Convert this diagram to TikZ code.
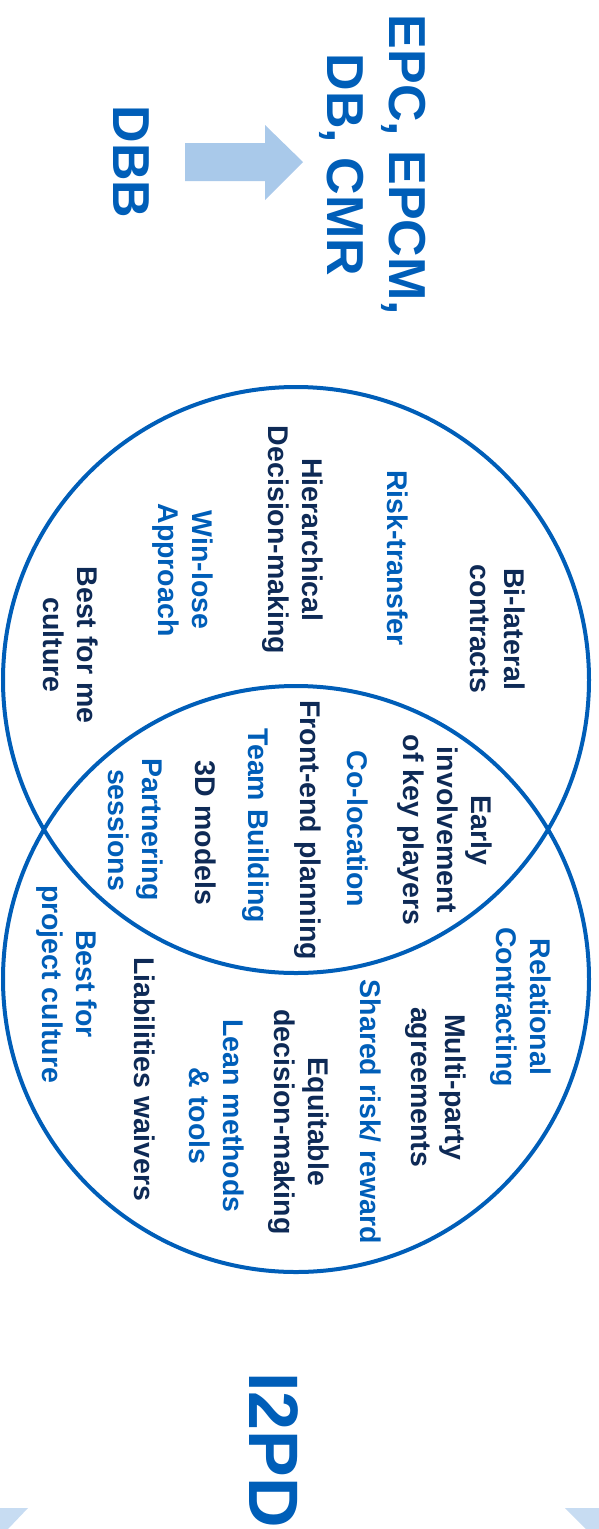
\documentclass[tikz,border=0pt]{standalone}
\usepackage{fontspec}
\setmainfont{Liberation Sans}
\definecolor{mblue}{RGB}{0,94,184}
\definecolor{mnavy}{RGB}{14,42,86}
\definecolor{lightarrow}{RGB}{169,201,234}
\definecolor{cornerblue}{RGB}{199,220,242}
\tikzset{
  lbl/.style={rotate=-90, align=center, inner sep=0pt, font=\bfseries\fontsize{28.5}{34}\selectfont},
  navylbl/.style={lbl, text=mnavy},
  bluelbl/.style={lbl, text=mblue},
  biglbl/.style={rotate=-90, align=center, inner sep=0pt, text=mblue, font=\bfseries\fontsize{52}{62}\selectfont},
  ring/.style={draw=mblue, line width=4pt},
}
\begin{document}
\begin{tikzpicture}[x=1pt, y=-1pt]
\useasboundingbox (0,0) rectangle (599,1529);
% header
\node[biglbl] (epc) at (373,165) {EPC, EPCM,\\DB, CMR};
\node[biglbl] (dbb) at (131,162) {DBB};
\fill[lightarrow] (185,143) -- (265,143) -- (265,125) -- (303,162) -- (265,200) -- (265,181) -- (185,181) -- cycle;
% circles
\draw[ring] (296,680) circle (293);
\draw[ring] (296,979) circle (293);
% upper circle
\node[navylbl] (bilat) at (498,629) {Bi-lateral\\contracts};
\node[bluelbl] (risk) at (398,558) {Risk-transfer};
\node[navylbl] (hier) at (293,540) {Hierarchical\\Decision-making};
\node[bluelbl] (winlose) at (183,570) {Win-lose\\Approach};
\node[navylbl] (bestme) at (71,645) {Best for me\\culture};
% lens
\node[navylbl] (early) at (445,830) {Early\\involvement\\of key players};
\node[bluelbl] (coloc) at (358,829) {Co-location};
\node[navylbl] (front) at (308,830) {Front-end planning};
\node[bluelbl] (team) at (256,826) {Team Building};
\node[navylbl] (threed) at (206,833) {3D models};
\node[bluelbl] (partner) at (136,830) {Partnering\\sessions};
% lower circle
\node[bluelbl] (relational) at (521,1007) {Relational\\Contracting};
\node[navylbl] (multi) at (436,1087) {Multi-party\\agreements};
\node[bluelbl] (shared) at (371,1112) {Shared risk/ reward};
\node[navylbl] (equit) at (299,1122) {Equitable\\decision-making};
\node[bluelbl] (lean) at (217,1116) {Lean methods\\\& tools};
\node[navylbl] (liab) at (145,1079) {Liabilities waivers};
\node[bluelbl] (bestproj) at (67,984) {Best for\\project culture};
% footer
\node[rotate=-90, inner sep=0pt, text=mblue, font=\bfseries\fontsize{70}{80}\selectfont] (i2pd) at (274,1450) {I2PD};
% corners
\fill[cornerblue] (0,1508) -- (28,1508) -- (8,1529) -- (0,1529) -- cycle;
\fill[cornerblue] (565,1508) -- (599,1508) -- (599,1529) -- (586,1529) -- cycle;
\end{tikzpicture}
\end{document}
